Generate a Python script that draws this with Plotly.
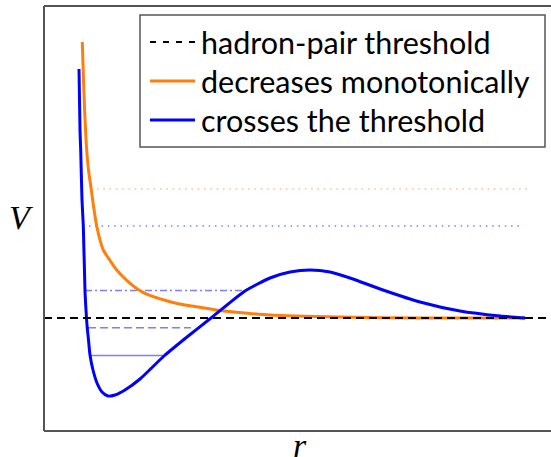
import plotly.graph_objects as go

# ---- data (r in arbitrary units, V relative to hadron-pair threshold) ----
orange_r = [0.766, 0.784, 0.804, 0.826, 0.854, 0.89, 0.944, 0.996, 1.054, 1.12, 1.186, 1.32, 1.454, 1.654, 1.92, 2.186, 2.52, 2.82, 3.12, 3.52, 4.02, 4.52, 5.92, 7.52, 9.62]
orange_V = [2.76, 2.48, 2.18, 1.93, 1.68, 1.48, 1.29, 1.10, 0.92, 0.78, 0.68, 0.575, 0.48, 0.377, 0.273, 0.213, 0.163, 0.13, 0.107, 0.075, 0.05, 0.03, 0.01, 0.0, 0.0]

blue_r = [0.70, 0.72, 0.734, 0.76, 0.786, 0.82, 0.84, 0.86, 0.89, 0.92, 0.98, 1.06, 1.16, 1.28, 1.42, 1.62, 1.92, 2.40, 2.86, 3.34, 4.02, 4.52, 4.92, 5.32, 5.72, 6.12, 6.78, 7.52, 8.32, 9.12, 9.62]
blue_V = [2.49, 1.88, 1.68, 1.18, 0.92, 0.27, 0.08, -0.07, -0.22, -0.37, -0.52, -0.65, -0.74, -0.78, -0.77, -0.72, -0.61, -0.38, -0.19, 0.0, 0.27, 0.40, 0.46, 0.48, 0.46, 0.40, 0.28, 0.16, 0.07, 0.02, 0.0]

threshold_r = [0.0, 10.2]
threshold_V = [0.0, 0.0]

# energy levels: (V, r_start, r_end)
orange_level = (1.29, 1.06, 9.66)
blue_levels_V = [0.92, 0.275, -0.097, -0.375]
blue_levels_r0 = [0.90, 0.82, 0.88, 0.92]
blue_levels_r1 = [9.58, 4.08, 2.94, 2.38]
blue_levels_dash = ["1.5px,4.8px", "7px,3px,2px,3px", "8px,4px", "solid"]

legend_labels = ["hadron-pair threshold", "decreases monotonically", "crosses the threshold"]

ORANGE = "#ff7f0e"
BLUE = "#0000ff"

fig = go.Figure()

# energy levels
fig.add_trace(go.Scatter(x=[orange_level[1], orange_level[2]], y=[orange_level[0]] * 2, mode="lines",
                         line=dict(color=ORANGE, width=1.5, dash="1.5px,4.8px"), opacity=0.5,
                         showlegend=False, hoverinfo="skip"))
for v, a, b, d in zip(blue_levels_V, blue_levels_r0, blue_levels_r1, blue_levels_dash):
    fig.add_trace(go.Scatter(x=[a, b], y=[v, v], mode="lines",
                             line=dict(color=BLUE, width=1.5, dash=d), opacity=0.5,
                             showlegend=False, hoverinfo="skip"))

fig.add_trace(go.Scatter(x=orange_r, y=orange_V, mode="lines",
                         line=dict(color=ORANGE, width=3, shape="spline", smoothing=0.8),
                         showlegend=False))
fig.add_trace(go.Scatter(x=blue_r, y=blue_V, mode="lines",
                         line=dict(color=BLUE, width=3, shape="spline", smoothing=0.6),
                         showlegend=False))
fig.add_trace(go.Scatter(x=threshold_r, y=threshold_V, mode="lines",
                         line=dict(color="black", width=2.2, dash="8px,5px"),
                         showlegend=False))

L, R, T, B = 44, 0, 6, 26
W, H = 551, 457
pw, ph = W - L - R, H - T - B


def px(x):
    return (x - L) / pw


def py(y):
    return (H - B - y) / ph


shapes = []
frame = dict(color="#555555", width=2)
shapes.append(dict(type="line", xref="paper", yref="paper", x0=0, x1=0, y0=0, y1=1, line=frame))
shapes.append(dict(type="line", xref="paper", yref="paper", x0=0, x1=1.02, y0=1, y1=1, line=frame))
shapes.append(dict(type="line", xref="paper", yref="paper", x0=0, x1=1.02, y0=0, y1=0, line=frame))

# legend box
shapes.append(dict(type="rect", xref="paper", yref="paper", x0=px(140), x1=px(545), y0=py(147), y1=py(15),
                   line=dict(color="#555555", width=1.5), fillcolor="white", layer="above"))
sym = [("black", "6px,7px", 1.8), (ORANGE, "solid", 3), (BLUE, "solid", 3)]
rows = [42, 81, 120]
annotations = []
for (c, d, w), yy, lab in zip(sym, rows, legend_labels):
    shapes.append(dict(type="line", xref="paper", yref="paper", x0=px(150), x1=px(195), y0=py(yy), y1=py(yy),
                       line=dict(color=c, width=w, dash=d), layer="above"))
    annotations.append(dict(xref="paper", yref="paper", x=px(199), y=py(yy), xanchor="left", yanchor="middle",
                            text=lab, showarrow=False, font=dict(family="Lato", size=30.5, color="black")))

annotations.append(dict(xref="paper", yref="paper", x=px(21), y=py(217), xanchor="center", yanchor="middle",
                        text="V", showarrow=False,
                        font=dict(family="Liberation Serif", size=34, color="black", style="italic")))
annotations.append(dict(xref="paper", yref="paper", x=px(300), y=py(445), xanchor="center", yanchor="middle",
                        text="r", showarrow=False,
                        font=dict(family="Liberation Serif", size=34, color="black", style="italic")))

fig.update_layout(
    width=W, height=H,
    margin=dict(l=L, r=R, t=T, b=B, pad=0),
    paper_bgcolor="white", plot_bgcolor="white",
    xaxis=dict(range=[0, pw / 50], showgrid=False, zeroline=False, showticklabels=False, ticks="", visible=False),
    yaxis=dict(range=[(318 - (H - B)) / 100, (318 - T) / 100], showgrid=False, zeroline=False,
               showticklabels=False, ticks="", visible=False),
    shapes=shapes, annotations=annotations, showlegend=False,
)

fig.write_html("out.html")
